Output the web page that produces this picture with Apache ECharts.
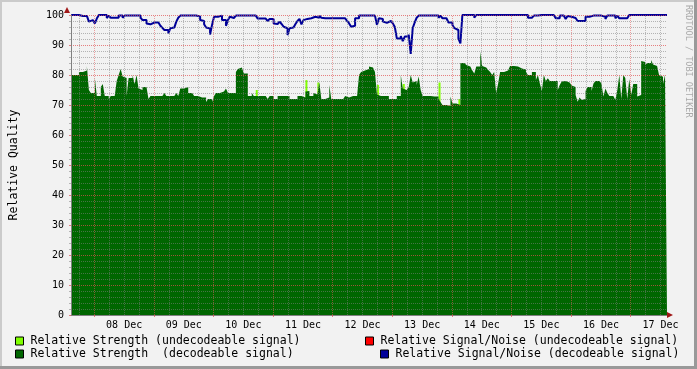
<!DOCTYPE html>
<html><head><meta charset="utf-8">
<script src="https://cdn.jsdelivr.net/npm/echarts@6/dist/echarts.min.js"></script>
<style>html,body{margin:0;padding:0;background:#f2f2f2}#c{width:697px;height:369px}</style>
</head><body><div id="c"></div>
<script>
// time axis in hours relative to 08 Dec 00:00
const startHour = -9.4;
const endHour = 230.6;
const slotHours = 0.8;

const seriesNames = [
  'Relative Strength (undecodeable signal)',
  'Relative Strength  (decodeable signal)',
  'Relative Signal/Noise (undecodeable signal)',
  'Relative Signal/Noise (decodeable signal)'
];

const strengthDecodeable = [
80,80,80,80,81,81,81,81.5,83,75,
74,74,79,73,73,76,77,73,73,72,
73,73,73,78,80,82,79.5,79,73,79,
79,80,77,80,75.5,75,76,76,75.5,72,
73,73,73,73,73,73,73,74,73,73,
73,73,73.5,74,73,75.5,75.5,76,76,74,
74,73.5,73,73,72.5,72.5,72.5,72.5,71,72,
72,71,73,74,74,74,74.5,74.5,75.5,74,
74,74,74,81,82,82.5,82,80.5,80.5,73,
73,74,73,73,73,73,73,73,73,72,
73,73,72,72,73,73,73,73,73,73,
72,72,72,72,73,73,73,72.5,74.5,74.7,
73,73,74,73.5,73.5,77.5,72,72,72,72.5,
76.7,72,72,72,72,72,72,72,73,72.5,
73,73,73,73,73,80,81,81.5,81,82,
82.8,82.5,83,81,73.5,73,73,73,73,73,
72,72,72,72,73,73,80,75.5,75,75,
76,80,77.5,78,76.7,79.5,75,73,73,73,
73,73,72.8,72.8,72.8,72,71,70,70,70,
69.7,72.8,70.5,70.5,70,70,84,84,84,83.3,
82.8,82.2,81.5,80.5,82.8,82.8,87.8,83,82.5,82.8,
81.7,81,80,81,74,77.2,81,81,81.5,81.5,
81.7,83,83,82.8,82.8,82.2,82.2,82.8,81.8,81,
80,80,81,81,78.3,80,77.2,74.7,80,78,
78.9,78,78,78,78,75,76.7,77.8,78,78,
77.5,77,76.5,76,73.3,71.1,72.5,71.7,72,74.7,
76,76,74.7,77.2,78,78,78,77.2,72.8,75.5,
74,73,73,73,71.7,75,80,72,80,79,
72,78.7,73.3,77,77,72.8,73.3,84.7,84.3,83.3,
84,84,85,83.5,83,83,80,79.4,77,80
];

const undecodeableSlot = [93,118,124,154,167,185,195];
const undecodeableStrength = [75,78.3,77.5,76.7,77,77.5,72];

const snDecodeable = [
100,100,100,100,99.5,99.7,99.7,99.7,99.2,97.8,
98.3,97.8,97.2,98.8,100,100,100,100,99,99.8,
99.1,99.1,99.1,99.1,99.8,99.8,99.1,99.8,99.8,99.8,
99.8,99.8,99.8,99.8,99.8,99.1,98.3,98.3,97.2,96.9,
96.9,97.5,98,97.5,96.9,96.4,95.7,95,95,93.9,
95.6,95.8,96.4,97.8,99.1,99.8,99.8,99.8,99.8,99.8,
99.8,99.8,99.8,99.8,99.5,98.3,98,96.9,95.8,95.5,
93.5,96.7,99.4,99.4,99.1,99.8,98.3,98.3,96.4,98.3,
99.4,99,99.4,99.8,99.8,99.8,99.8,99.8,99.8,99.5,
99.8,99.8,99.8,99.8,98.8,98.8,98.8,98.8,98.7,98,
98.7,98.7,97.2,97,97,97.8,97,96.1,95.6,93.3,
95.6,95.8,95.8,97,98,98.7,96.9,98.3,98.7,98.7,
98.9,98.9,99.4,100,99.1,99.8,99.1,98.9,98.9,98.9,
98.9,98.9,98.9,98.9,98.9,98.9,98.9,98.9,98.9,98,
97.2,96.1,96.4,98.9,98.9,99.8,99.8,99.8,99.8,99.8,
99.8,99.8,99.8,99.8,96.7,98.9,98.7,97.8,97.4,97.4,
98,98,97.2,96,92.2,92.2,93,91.3,92.8,92.8,
93.5,87,95.6,97.5,99.1,99.8,99.8,99.8,99.8,99.8,
99.8,99.8,99.8,99.8,99.8,99.1,99.8,98.9,98.9,98.3,
97.5,97.5,96.7,95.6,95,92.2,90.5,100,100,100,
100,100,100,99.1,100,100,100,100,100,100,
100,100,100,100,100,100,100,100,100,100,
100,100,100,100,100,100,100,100,100,100,
99.1,99.1,99.4,99.8,99.8,99.5,100,100,100,100,
100,100,100,100,98.9,98.9,99.8,99.8,99.6,98.7,
99.7,99.4,99.1,99,98.7,98,98,98,98,99.4,
99.4,99.8,99.8,99.8,99.8,99.8,99.8,99.8,99.4,98.7,
99.8,99.8,99.8,99.8,98.9,99.8,98.9,98.9,99.4,98.9,
98.9,100,100,100,100,100,100,100,100,100,
100,100,100,100,100,100,100,100,100,100
];

const snUndecodeable = [];

const dayLabelHours = [12,36,60,84,108,132,156,180,204,228];
const dayLabels = ['08 Dec','09 Dec','10 Dec','11 Dec','12 Dec','13 Dec','14 Dec','15 Dec','16 Dec','17 Dec'];
const midnightHours = [0,24,48,72,96,120,144,168,192,216];
const sixHourMarks = [-6,6,12,18,30,36,42,54,60,66,78,84,90,102,108,114,126,132,138,150,156,162,174,180,186,198,204,210,222,228];

function toSteps(vals) {
  const d = vals.map((v, i) => [startHour + i * slotHours, v]);
  d.push([endHour, vals[vals.length - 1]]);
  return d;
}
const lightBars = undecodeableSlot.map((s, i) => [startHour + (s + 0.5) * slotHours, undecodeableStrength[i]]);

const FONT = 'DejaVu Sans Mono';
const gridGray = 'rgba(128,128,128,0.55)';
const gridRed = 'rgba(224,79,79,0.7)';
const vGray = 'rgba(128,128,128,0.5)';
const vRed = 'rgba(230,90,90,0.55)';

const vGrid = sixHourMarks.map(h => ({xAxis: h, lineStyle: {color: vGray, type: 'dotted', width: 1}}))
  .concat(midnightHours.map(h => ({xAxis: h, lineStyle: {color: vRed, type: 'dotted', width: 1}})));

const chart = echarts.init(document.getElementById('c'), null, {renderer: 'canvas'});
const legendBase = {
  icon: 'rect', itemWidth: 8, itemHeight: 8, padding: 0, selectedMode: false,
  itemStyle: {borderColor: '#000', borderWidth: 1},
  textStyle: {fontFamily: FONT, fontSize: 11.5, color: '#000', padding: [0, 0, 0, 2]}
};
chart.setOption({
  animation: false,
  backgroundColor: '#f2f2f2',
  grid: {left: 67, right: 30, top: 15, bottom: 54, containLabel: false},
  xAxis: {
    type: 'value', min: startHour, max: endHour, z: 5,
    axisLine: {show: true, onZero: false, lineStyle: {color: '#808080', width: 1}},
    axisTick: {show: true, length: 2, customValues: midnightHours, lineStyle: {color: gridRed}},
    splitLine: {show: false},
    axisLabel: {customValues: dayLabelHours, margin: 5, fontFamily: FONT, fontSize: 10, color: '#000',
      formatter: v => { const i = dayLabelHours.findIndex(h => Math.abs(h - v) < 0.01); return i >= 0 ? dayLabels[i] : ''; }}
  },
  yAxis: {
    type: 'value', min: 0, max: 100, interval: 10, z: 5,
    name: 'Relative Quality', nameLocation: 'middle', nameGap: 51, nameRotate: 90,
    nameTextStyle: {fontFamily: FONT, fontSize: 11.5, color: '#000'},
    axisLine: {show: true, onZero: false, lineStyle: {color: '#808080'}},
    axisTick: {show: true, length: 2, lineStyle: {color: gridRed}},
    minorTick: {show: true, splitNumber: 5, length: 2, lineStyle: {color: gridGray}},
    axisLabel: {margin: 7, fontFamily: FONT, fontSize: 10, color: '#000'},
    splitLine: {show: true, lineStyle: {color: gridRed, type: [1, 1]}},
    minorSplitLine: {show: true, lineStyle: {color: gridGray, type: [1, 1]}}
  },
  legend: [
    Object.assign({}, legendBase, {left: 15, top: 335, data: [seriesNames[0]]}),
    Object.assign({}, legendBase, {left: 15, top: 348, data: [seriesNames[1]]}),
    Object.assign({}, legendBase, {left: 365, top: 335, data: [seriesNames[2]]}),
    Object.assign({}, legendBase, {left: 380, top: 348, data: [seriesNames[3]]})
  ],
  series: [
    {name: seriesNames[0], type: 'bar', data: lightBars, barWidth: 2,
     itemStyle: {color: '#80ff00'}, z: 1},
    {name: seriesNames[1], type: 'line', data: toSteps(strengthDecodeable), step: 'end',
     showSymbol: false, symbol: 'none', color: '#006600', lineStyle: {width: 0},
     areaStyle: {color: '#006600', opacity: 1}, z: 2,
     markLine: {silent: true, symbol: 'none', label: {show: false}, animation: false, z: 4,
       lineStyle: {type: 'dotted', width: 1}, data: vGrid}},
    {name: seriesNames[2], type: 'line', data: snUndecodeable, showSymbol: false,
     symbol: 'none', color: '#ff0000', lineStyle: {width: 2, color: '#ff0000'}},
    {name: seriesNames[3], type: 'line', data: toSteps(snDecodeable), step: 'end',
     showSymbol: false, symbol: 'none', color: '#000099', clip: false,
     lineStyle: {width: 2, color: '#000099'}, z: 3}
  ],
  graphic: [
    {type: 'rect', shape: {x: 0, y: 0, width: 697, height: 2}, style: {fill: '#cbcbcb'}, silent: true},
    {type: 'rect', shape: {x: 0, y: 0, width: 2, height: 369}, style: {fill: '#cbcbcb'}, silent: true},
    {type: 'rect', shape: {x: 0, y: 366, width: 697, height: 3}, style: {fill: '#999999'}, silent: true},
    {type: 'rect', shape: {x: 694, y: 0, width: 3, height: 369}, style: {fill: '#999999'}, silent: true},
    {type: 'polygon', shape: {points: [[64, 13], [70, 13], [67, 7]]}, style: {fill: '#a01818'}, z: 10, silent: true},
    {type: 'polygon', shape: {points: [[667, 312], [667, 318], [673, 315]]}, style: {fill: '#a01818'}, z: 10, silent: true},
    {type: 'text', x: 688, y: 5, rotation: -Math.PI / 2, silent: true,
     style: {text: 'RRDTOOL / TOBI OETIKER', fontFamily: FONT, fontSize: 8.5, fill: '#aaaaaa',
             textAlign: 'left', textVerticalAlign: 'middle'}}
  ]
});
</script></body></html>
